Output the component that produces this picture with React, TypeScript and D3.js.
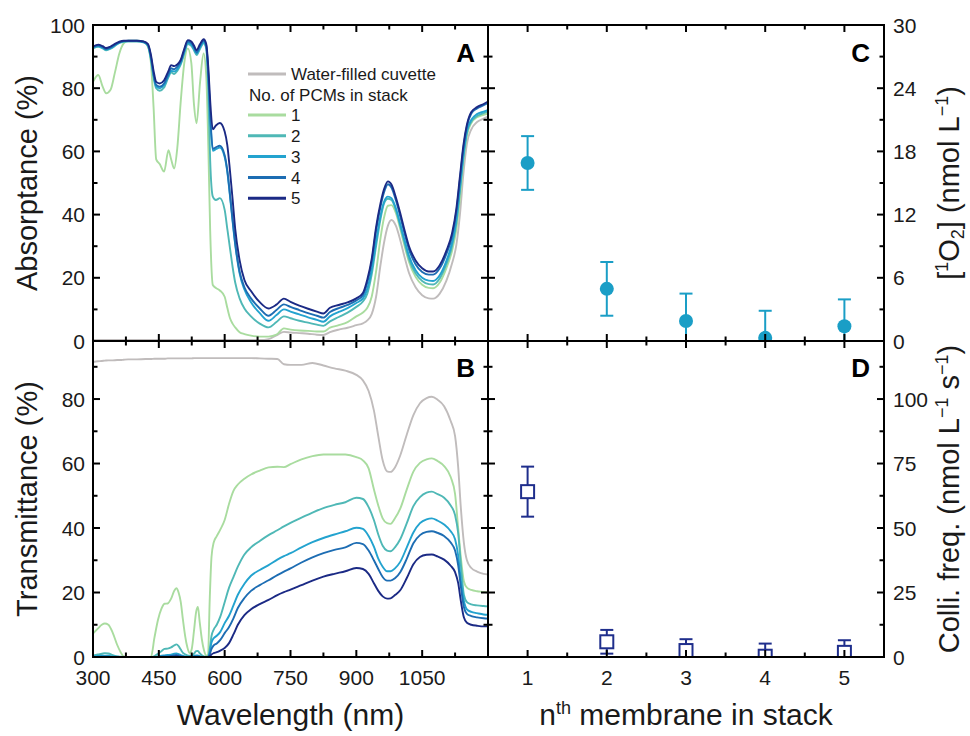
import React from "react";
import * as d3 from "d3";

// ---------- Panel A: absorptance ----------
const lambdaA = [300,312,322,330,340,350,360,370,380,400,415,425,432,438,444,452,462,472,478,485,492,500,508,516,524,530,536,544,552,558,563,567,573,580,589,600,606,612,618,624,634,645,660,680,700,718,735,750,770,790,810,825,840,860,880,900,915,925,935,945,955,963,972,980,990,1000,1010,1020,1035,1050,1065,1075,1090,1105,1118,1128,1136,1144,1152,1162,1175,1190,1200];
const absWater = [0.3,0.3,0.3,0.3,0.3,0.3,0.3,0.3,0.3,0.3, 0.3,0.3,0.3,0.3,0.3,0.3,0.3,0.3,0.3,0.3, 0.3,0.3,0.3,0.3,0.3,0.3,0.3,0.3,0.3,0.3, 0.3,0.3,0.3,0.3,0.3,0.3,0.3,0.3,0.3,0.3, 0.3,0.3,0.3,0.3,0.6,1.8,2.9,2.7,2.5,2.3, 2.0,1.9,2.8,3.6,4.2,5.0,5.6,6.5,8.5,14.0, 24.0,31.0,36.5,38.3,36.5,32.0,26.5,21.5,17.0,14.5, 13.5,13.4,15.0,19.0,24.5,30.5,40.0,53.0,62.5,67.0, 69.3,70.4,71.0];
const abs1 = [82.0,84.2,80.5,78.4,79.5,85.0,91.0,94.2,95.0,95.0, 94.7,93.2,88.0,74.0,57.5,56.0,53.6,60.4,57.5,54.6, 61.0,76.0,88.0,92.6,88.0,75.0,68.9,82.0,91.0,84.0, 60.0,35.0,17.7,16.8,16.0,14.0,10.5,7.3,5.5,4.3, 2.8,2.2,1.7,1.4,1.4,2.0,4.0,3.6,3.3,3.2, 3.0,3.0,4.2,5.0,6.0,7.8,9.0,10.5,14.0,22.0, 32.5,39.0,42.8,43.0,40.5,35.5,30.0,25.0,20.3,17.8, 16.8,16.7,18.5,23.0,28.5,35.5,45.0,57.0,65.0,69.0, 70.8,71.6,72.0];
const abs2 = [92.6,93.1,92.6,92.0,92.5,93.4,94.3,94.7,94.8,94.8, 94.5,93.4,89.0,83.5,80.0,79.2,80.2,83.5,85.0,84.5, 85.5,87.5,91.0,94.0,93.4,92.0,90.5,92.5,94.2,92.5, 78.0,57.0,45.7,44.6,45.2,41.5,35.5,29.5,23.5,18.5, 13.5,10.3,7.8,5.5,4.3,6.0,7.8,7.2,6.4,5.8, 5.2,4.8,6.2,7.6,9.0,10.8,12.5,15.0,21.0,30.0, 38.5,43.5,45.0,44.6,41.5,36.5,31.0,26.0,21.4,19.0, 18.0,17.9,19.8,24.3,30.0,37.5,47.5,58.0,66.0,69.4, 71.2,72.1,72.6];
const abs3 = [92.8,93.3,92.8,92.2,92.7,93.6,94.4,94.8,94.9,94.9, 94.6,93.6,89.5,84.0,80.5,80.0,81.0,84.0,85.5,85.3, 86.0,88.0,91.5,94.4,93.8,92.5,91.0,93.0,94.6,93.0, 83.0,71.0,60.2,60.7,61.2,58.2,53.5,46.0,38.0,30.5, 21.4,16.3,12.3,8.8,6.4,8.2,10.0,9.3,8.4,7.5, 6.7,6.1,7.8,9.2,10.4,12.0,13.5,16.5,22.5,31.5, 39.5,44.0,45.7,45.2,42.0,37.0,31.8,27.0,22.4,20.0, 19.1,19.0,20.8,25.3,31.0,38.5,48.5,59.0,66.5,70.0, 71.8,72.6,73.1];
const abs4 = [93.0,93.5,93.0,92.4,92.9,93.8,94.5,94.9,95.0,95.0, 94.7,93.8,90.0,84.5,81.0,80.5,81.5,84.5,86.3,86.0, 86.8,88.5,92.0,94.8,94.3,93.0,91.3,93.5,95.0,93.5, 84.0,72.0,60.8,61.3,61.8,58.8,54.0,46.5,38.5,31.0, 22.0,17.0,13.5,10.3,8.0,9.8,11.6,10.8,9.8,8.8, 8.0,7.4,9.2,10.4,11.4,12.8,14.5,18.5,25.0,35.0, 42.5,47.0,49.6,48.6,44.6,39.5,34.0,29.0,24.3,21.8, 21.0,21.0,23.0,27.5,33.0,41.0,51.0,61.0,68.0,72.0, 73.6,74.6,75.3];
const abs5 = [93.2,93.8,93.3,92.7,93.2,94.0,94.7,95.0,95.0,95.0, 94.8,94.0,90.5,85.5,82.0,81.5,82.5,85.5,87.3,87.0, 87.5,89.0,92.5,95.2,94.8,93.5,92.0,94.0,95.5,94.0, 86.0,76.0,67.0,68.2,69.0,66.3,62.0,54.0,45.0,35.5, 25.6,19.3,15.8,12.3,10.3,11.5,13.4,12.4,11.2,10.2, 9.3,8.7,10.5,11.4,12.2,13.5,15.2,19.5,26.0,36.0, 43.5,48.0,50.5,49.5,45.5,40.5,35.0,30.0,25.5,23.0, 22.0,22.0,24.0,28.5,34.0,42.0,52.0,62.0,68.5,72.5, 74.0,75.0,75.8];

// ---------- Panel B: transmittance ----------
const lambdaB = [300,311,320,327,335,345,355,363,370,380,400,420,432,440,448,456,463,470,478,485,490,495,500,505,510,515,520,525,530,535,539,543,548,553,558,562,566,570,575,582,590,600,610,620,630,645,660,680,700,720,735,750,775,800,825,850,875,900,915,928,940,950,960,970,978,988,1000,1015,1030,1045,1060,1072,1085,1100,1115,1125,1132,1138,1145,1152,1162,1175,1190,1200];
const transWater = [91.5,91.7,91.8,91.9,92.0,92.0,92.1,92.1,92.2,92.3, 92.3,92.4,92.4,92.5,92.5,92.5,92.5,92.6,92.6,92.6, 92.6,92.6,92.6,92.6,92.6,92.6,92.6,92.6,92.7,92.7, 92.7,92.7,92.7,92.7,92.7,92.7,92.7,92.7,92.7,92.7, 92.7,92.7,92.7,92.7,92.7,92.7,92.7,92.6,92.5,92.4, 90.8,90.6,90.6,91.2,90.4,89.5,88.8,87.5,85.8,82.5, 76.5,68.5,61.0,57.6,57.4,58.8,62.5,69.0,75.0,78.7, 80.3,80.7,79.8,77.8,73.2,68.5,59.0,46.5,35.5,30.0, 27.6,26.5,25.8,25.6];
const trans1 = [7.3,8.8,10.0,10.4,10.0,7.5,3.8,1.5,0.2,0, 0,0,0,6.0,11.5,15.0,16.5,16.6,18.1,20.5, 21.3,20.0,17.0,11.5,6.5,3.0,1.2,2.5,8.0,14.0, 15.5,11.0,5.5,2.0,0.5,0.5,18.0,31.0,35.5,37.5, 39.5,42.5,47.5,51.5,53.5,55.3,56.6,57.8,58.8,59.0, 58.9,59.8,61.3,62.3,62.8,62.8,62.8,62.0,61.0,58.5, 52.0,47.0,43.0,41.5,41.3,43.0,46.0,52.0,57.5,60.2, 61.3,61.6,60.8,59.2,55.8,50.5,40.0,31.0,23.5,21.5, 20.8,20.4,20.2,20.0];
const trans2 = [0.5,0.8,1.0,1.2,1.1,0.6,0.2,0.1,0,0, 0,0,0,0.3,1.0,1.8,2.5,2.6,3.0,3.6, 3.9,3.4,2.3,1.3,0.8,0.5,0.4,0.5,1.0,1.8, 1.9,1.2,0.5,0.2,0.1,0.1,2.5,6.5,8.5,10.0, 12.5,17.0,21.5,24.8,28.0,31.8,34.0,36.0,37.8,39.3, 40.5,41.6,43.2,44.8,46.2,47.2,48.0,49.4,49.0,46.5, 42.5,38.0,34.5,33.0,32.8,34.0,36.5,41.5,46.8,49.6, 51.0,51.3,50.5,49.4,47.0,44.0,38.5,29.0,19.3,17.0, 16.3,16.0,15.8,15.7];
const trans3 = [0.2,0.3,0.4,0.4,0.4,0.2,0.1,0,0,0, 0,0,0,0,0.2,0.4,0.5,0.6,0.7,1.0, 1.1,0.9,0.6,0.3,0.2,0.1,0.1,0.2,0.3,0.5, 0.5,0.3,0.1,0,0,0,1.5,4.5,5.8,6.6, 7.8,10.5,12.8,16.0,19.3,22.7,25.2,27.0,28.5,30.2, 31.3,32.2,34.0,35.6,36.9,38.0,39.0,40.1,39.7,37.5, 34.2,30.5,28.0,26.6,26.6,27.5,29.5,34.0,38.6,41.5, 42.7,43.0,42.3,41.1,39.0,36.5,31.5,24.0,17.5,14.8, 14.0,13.6,13.2,13.1];
const trans4 = [0,0,0.1,0.1,0.1,0,0,0,0,0, 0,0,0,0,0,0.1,0.2,0.2,0.3,0.5, 0.6,0.5,0.3,0.1,0,0,0,0,0.1,0.2, 0.2,0.1,0,0,0,0,0.8,2.5,3.6,4.2, 5.3,7.4,9.3,12.0,15.2,18.3,20.5,22.3,23.8,25.4, 26.5,27.5,29.3,30.9,32.2,33.2,34.0,35.4,35.0,33.0, 30.0,27.3,24.8,23.7,23.7,24.4,26.3,30.5,35.3,37.8, 38.8,39.0,38.5,37.5,35.5,33.0,28.5,22.0,15.5,13.4, 12.7,12.3,12.0,11.9];
const trans5 = [0,0,0,0,0,0,0,0,0,0, 0,0,0,0,0,0,0,0,0.1,0.1, 0.2,0.1,0,0,0,0,0,0,0,0, 0,0,0,0,0,0,0.2,0.8,1.2,1.5, 2.0,2.8,4.3,7.0,10.0,13.0,14.8,16.4,17.7,19.2, 20.1,20.9,22.3,23.7,24.9,25.8,26.6,27.6,27.3,25.8, 22.9,20.5,18.8,18.1,18.2,19.2,20.7,24.5,28.8,31.0, 31.7,31.8,31.2,30.2,28.3,26.3,23.0,17.5,12.3,10.6, 10.0,9.7,9.5,9.5];

// ---------- Panels C / D ----------
const membrane = [1, 2, 3, 4, 5];
const o2Mean = [16.9, 4.95, 1.9, 0.3, 1.4];
const o2Err = [2.55, 2.55, 2.6, 2.57, 2.55];
const colMean = [64.1, 5.9, 2.5, 0.3, 1.8];
const colErr = [9.7, 4.6, 4.4, 4.9, 4.7];

// ---------- ticks & legend ----------
const wlTickLabels = [300, 450, 600, 750, 900, 1050];
const absTickLabels = [0, 20, 40, 60, 80, 100];
const transTickLabels = [0, 20, 40, 60, 80];
const o2TickLabels = [0, 6, 12, 18, 24, 30];
const colTickLabels = [0, 25, 50, 75, 100];
const legendLabels = ["1", "2", "3", "4", "5"];

const COLORS = ["#a9dc9f", "#4fb8b6", "#23a3cf", "#1d6db3", "#1b2a85"];
const GREY = "#c0bcbc";
const C_COLOR = "#1a9ec6";
const D_COLOR = "#1f2e8c";
const FONT = "'Liberation Sans', Arial, Helvetica, sans-serif";
const TXT = "#1a1a1a";

const L = 93, M = 488, R = 884, T = 25, MID = 341, BOT = 657;

const xW = d3.scaleLinear().domain([300, 1200]).range([L, M]);
const yA = d3.scaleLinear().domain([0, 100]).range([MID, T]);
const yB = d3.scaleLinear().domain([0, 98]).range([BOT, MID]);
const xN = d3.scaleLinear().domain([0.5, 5.5]).range([M, R]);
const yC = d3.scaleLinear().domain([0, 30]).range([MID, T]);
const yD = d3.scaleLinear().domain([0, 122.5]).range([BOT, MID]);

function mkLine(lambda: number[], y: d3.ScaleLinear<number, number>) {
  return d3
    .line<number>()
    .x((_, i) => xW(lambda[i]))
    .y((d) => y(d))
    .curve(d3.curveMonotoneX);
}

type Sc = d3.ScaleLinear<number, number>;

function panelTicks(key: string, xs: Sc, ys: Sc, xMajor: number[], xMinor: number[], yMajor: number[], yMinor: number[]) {
  const [x0, x1] = xs.range();
  const [y0, y1] = ys.range();
  const out: any[] = [];
  const MJ = 7, MN = 4.5;
  const xt = (v: number, len: number, k: string) => {
    const px = xs(v);
    out.push(<line key={k + "b"} x1={px} x2={px} y1={y0} y2={y0 - len} />);
    out.push(<line key={k + "t"} x1={px} x2={px} y1={y1} y2={y1 + len} />);
  };
  const yt = (v: number, len: number, k: string) => {
    const py = ys(v);
    out.push(<line key={k + "l"} x1={x0} x2={x0 + len} y1={py} y2={py} />);
    out.push(<line key={k + "r"} x1={x1} x2={x1 - len} y1={py} y2={py} />);
  };
  xMajor.forEach((v, i) => xt(v, MJ, `${key}xM${i}`));
  xMinor.forEach((v, i) => xt(v, MN, `${key}xm${i}`));
  yMajor.forEach((v, i) => yt(v, MJ, `${key}yM${i}`));
  yMinor.forEach((v, i) => yt(v, MN, `${key}ym${i}`));
  return out;
}

export default function App() {
  const lineA = mkLine(lambdaA, yA);
  const lineB = mkLine(lambdaB, yB);
  const absSeries = [abs1, abs2, abs3, abs4, abs5];
  const transSeries = [trans1, trans2, trans3, trans4, trans5];

  const wlMajor = d3.range(300, 1200, 150);
  const wlMinor = d3.range(375, 1200, 150);
  const absMajor = d3.range(0, 101, 20);
  const absMinor = d3.range(10, 100, 20);
  const trMajor = d3.range(0, 98, 20);
  const trMinor = d3.range(10, 98, 20);
  const nMajor = membrane;
  const nMinor = d3.range(1.5, 5.5, 1);
  const o2Major = d3.range(0, 31, 6);
  const o2Minor = d3.range(3, 30, 6);
  const colMajor = d3.range(0, 122, 25);
  const colMinor = d3.range(12.5, 122.5, 25);

  const cap = 6.5;
  const sq = 13;

  return (
    <svg
      width={970}
      height={736}
      viewBox="0 0 970 736"
      style={{ position: "absolute", left: 0, top: 0, background: "#fff" }}
      fontFamily={FONT}
    >
      <defs>
        <clipPath id="clipA"><rect x={L} y={T} width={M - L} height={MID - T} /></clipPath>
        <clipPath id="clipB"><rect x={L} y={MID} width={M - L} height={BOT - MID} /></clipPath>
        <clipPath id="clipC"><rect x={M} y={T} width={R - M} height={MID - T} /></clipPath>
        <clipPath id="clipD"><rect x={M} y={MID} width={R - M} height={BOT - MID} /></clipPath>
      </defs>
      <rect x={0} y={0} width={970} height={736} fill="#fff" />

      {/* Panel A lines */}
      <g clipPath="url(#clipA)" fill="none" strokeWidth={1.9} strokeLinejoin="round">
        <path d={lineA(absWater) || ""} stroke={GREY} />
        {absSeries.map((s, i) => (
          <path key={"a" + i} d={lineA(s) || ""} stroke={COLORS[i]} />
        ))}
      </g>
      {/* Panel B lines */}
      <g clipPath="url(#clipB)" fill="none" strokeWidth={1.9} strokeLinejoin="round">
        <path d={lineB(transWater) || ""} stroke={GREY} />
        {transSeries.map((s, i) => (
          <path key={"b" + i} d={lineB(s) || ""} stroke={COLORS[i]} />
        ))}
      </g>

      {/* Panel C */}
      <g clipPath="url(#clipC)">
        {membrane.map((m, i) => {
          const px = xN(m);
          return (
            <g key={"c" + i} stroke={C_COLOR} strokeWidth={2}>
              <line x1={px} x2={px} y1={yC(o2Mean[i] - o2Err[i])} y2={yC(o2Mean[i] + o2Err[i])} />
              <line x1={px - cap} x2={px + cap} y1={yC(o2Mean[i] + o2Err[i])} y2={yC(o2Mean[i] + o2Err[i])} />
              <line x1={px - cap} x2={px + cap} y1={yC(o2Mean[i] - o2Err[i])} y2={yC(o2Mean[i] - o2Err[i])} />
              <circle cx={px} cy={yC(o2Mean[i])} r={7} fill={C_COLOR} stroke="none" />
            </g>
          );
        })}
      </g>

      {/* Panel D */}
      <g clipPath="url(#clipD)">
        {membrane.map((m, i) => {
          const px = xN(m);
          const cy = yD(colMean[i]);
          return (
            <g key={"d" + i} stroke={D_COLOR} strokeWidth={2}>
              <line x1={px} x2={px} y1={yD(colMean[i] - colErr[i])} y2={yD(colMean[i] + colErr[i])} />
              <line x1={px - cap} x2={px + cap} y1={yD(colMean[i] + colErr[i])} y2={yD(colMean[i] + colErr[i])} />
              <line x1={px - cap} x2={px + cap} y1={yD(colMean[i] - colErr[i])} y2={yD(colMean[i] - colErr[i])} />
              <rect x={px - sq / 2} y={cy - sq / 2} width={sq} height={sq} fill="#fff" />
            </g>
          );
        })}
      </g>

      {/* Frame and ticks */}
      <g stroke="#000" strokeWidth={2} fill="none">
        {panelTicks("A", xW, yA, wlMajor, wlMinor, absMajor, absMinor)}
        {panelTicks("B", xW, yB, wlMajor, wlMinor, trMajor, trMinor)}
        {panelTicks("C", xN, yC, nMajor, nMinor, o2Major, o2Minor)}
        {panelTicks("D", xN, yD, nMajor, nMinor, colMajor, colMinor)}
        <rect x={L} y={T} width={R - L} height={BOT - T} />
        <line x1={M} x2={M} y1={T} y2={BOT} />
        <line x1={L} x2={R} y1={MID} y2={MID} />
      </g>

      {/* Tick labels */}
      <g fontSize={21} fill={TXT}>
        {absTickLabels.map((v) => (
          <text key={"al" + v} x={L - 8} y={yA(v)} dy="0.36em" textAnchor="end">{v}</text>
        ))}
        {transTickLabels.map((v) => (
          <text key={"bl" + v} x={L - 8} y={yB(v)} dy="0.36em" textAnchor="end">{v}</text>
        ))}
        {wlTickLabels.map((v) => (
          <text key={"wl" + v} x={xW(v)} y={685} textAnchor="middle">{v}</text>
        ))}
        {membrane.map((v) => (
          <text key={"nl" + v} x={xN(v)} y={685} textAnchor="middle">{v}</text>
        ))}
        {o2TickLabels.map((v) => (
          <text key={"cl" + v} x={R + 9} y={yC(v)} dy="0.36em" textAnchor="start">{v}</text>
        ))}
        {colTickLabels.map((v) => (
          <text key={"dl" + v} x={R + 9} y={yD(v)} dy="0.36em" textAnchor="start">{v}</text>
        ))}
      </g>

      {/* Panel letters */}
      <g fontSize={26} fontWeight="bold" fill="#000" textAnchor="end">
        <text x={M - 13} y={62}>A</text>
        <text x={M - 13} y={377}>B</text>
        <text x={R - 14} y={62}>C</text>
        <text x={R - 14} y={377}>D</text>
      </g>

      {/* Legend */}
      <g fontSize={17} fill={TXT}>
        <line x1={248} x2={286} y1={74} y2={74} stroke={GREY} strokeWidth={3} />
        <text x={291} y={74} dy="0.36em">Water-filled cuvette</text>
        <text x={249} y={95} dy="0.36em">No. of PCMs in stack</text>
        {legendLabels.map((lab, i) => {
          const yy = 115 + i * 20.8;
          return (
            <g key={"lg" + i}>
              <line x1={248} x2={286} y1={yy} y2={yy} stroke={COLORS[i]} strokeWidth={3} />
              <text x={291} y={yy} dy="0.36em">{lab}</text>
            </g>
          );
        })}
      </g>

      {/* Axis titles */}
      <g fontSize={29} fill={TXT} textAnchor="middle">
        <text transform={`translate(37,${(T + MID) / 2}) rotate(-90)`}>Absorptance (%)</text>
        <text transform={`translate(37,${(MID + BOT) / 2}) rotate(-90)`}>Transmittance (%)</text>
      </g>
      <g fontSize={30} fill={TXT} textAnchor="middle">
        <text x={(L + M) / 2} y={725}>Wavelength (nm)</text>
        <text x={(M + R) / 2} y={725}>
          n<tspan dy={-11} fontSize={18}>th</tspan><tspan dy={11}> membrane in stack</tspan>
        </text>
      </g>
      <g fontSize={29} fill={TXT} textAnchor="middle">
        <text transform={`translate(959,${(T + MID) / 2}) rotate(-90)`}>
          [<tspan dy={-11} fontSize={18}>1</tspan><tspan dy={11}>O</tspan><tspan dy={5} fontSize={18}>2</tspan><tspan dy={-5}>] (nmol L</tspan><tspan dy={-11} fontSize={18}>−1</tspan><tspan dy={11}>)</tspan>
        </text>
        <text transform={`translate(959,${(MID + BOT) / 2}) rotate(-90)`}>
          Colli. freq. (nmol L<tspan dy={-11} fontSize={18}>−1</tspan><tspan dy={11}> s</tspan><tspan dy={-11} fontSize={18}>−1</tspan><tspan dy={11}>)</tspan>
        </text>
      </g>
    </svg>
  );
}
